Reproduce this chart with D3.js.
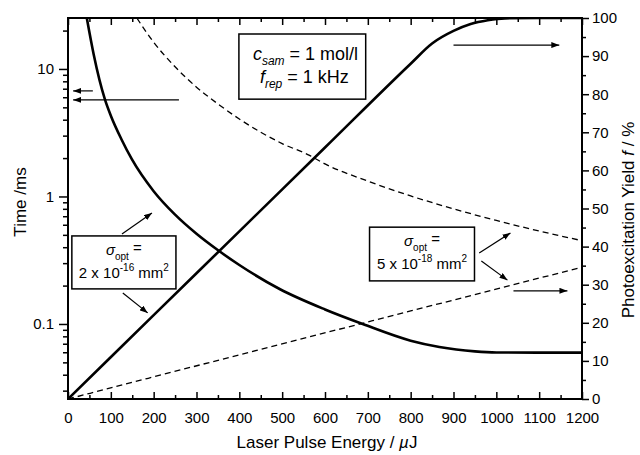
<!DOCTYPE html>
<html>
<head>
<meta charset="utf-8">
<script src="https://cdn.jsdelivr.net/npm/d3@7"></script>
<style>
  html, body { margin: 0; padding: 0; background: #fff; }
  svg { display: block; font-family: "Liberation Sans", Arial, Helvetica, sans-serif; }
</style>
</head>
<body>
<svg id="chart" width="640" height="455"></svg>
<script>
// Laser pulse energy (µJ) grid for the time curves
const energyTimeStrong = [44, 60, 86, 100, 125, 149, 200, 250, 300, 352, 400, 494, 600, 688, 800, 867, 950, 1000, 1100, 1200];
// Time (ms), sigma_opt = 2e-16 mm^2 (solid)
const timeStrong = [25, 13.0, 5.8, 4.3, 2.8, 1.96, 1.1, 0.72, 0.51, 0.375, 0.29, 0.188, 0.13, 0.1, 0.074, 0.066, 0.061, 0.0598, 0.0596, 0.0596];

const energyTimeWeak = [161, 200, 250, 300, 354, 400, 500, 564, 600, 700, 800, 900, 1000, 1100, 1200];
// Time (ms), sigma_opt = 5e-18 mm^2 (dashed)
const timeWeak = [25, 16.2, 10.4, 7.2, 5.2, 4.05, 2.6, 2.1, 1.8, 1.32, 1.01, 0.80, 0.648, 0.536, 0.45];

// Photoexcitation yield (%), sigma_opt = 2e-16 mm^2 (solid)
const energyYieldStrong = [0, 200, 400, 600, 800, 850, 900, 940, 980, 1020, 1100, 1200];
const yieldStrong = [0, 22, 44, 66, 88, 93.3, 96.6, 98.4, 99.4, 99.9, 100, 100];

// Photoexcitation yield (%), sigma_opt = 5e-18 mm^2 (dashed)
const energyYieldWeak = [0, 400, 800, 1200];
const yieldWeak = [0, 11.6, 23.1, 34.6];

// Axis ticks
const xMajorTicks = [0, 100, 200, 300, 400, 500, 600, 700, 800, 900, 1000, 1100, 1200];
const xMinorTicks = [50, 150, 250, 350, 450, 550, 650, 750, 850, 950, 1050, 1150];
const timeMajorTicks = [0.1, 1, 10];
const timeTickLabels = ["0.1", "1", "10"];
const timeMinorTicks = [0.03, 0.04, 0.05, 0.06, 0.07, 0.08, 0.09,
  0.2, 0.3, 0.4, 0.5, 0.6, 0.7, 0.8, 0.9,
  2, 3, 4, 5, 6, 7, 8, 9, 20];
const yieldMajorTicks = [0, 10, 20, 30, 40, 50, 60, 70, 80, 90, 100];
const yieldMinorTicks = [5, 15, 25, 35, 45, 55, 65, 75, 85, 95];

// Annotation arrows in data units: [E0, value0, E1, value1]
const timeArrows = [[58, 6.73, 12, 6.73], [259, 5.72, 12, 5.72]];
const yieldArrows = [
  [900, 92.9, 1147, 92.9],
  [1040, 28.4, 1166, 28.4],
  [126, 43.3, 196, 48.8],
  [128, 27.8, 186, 22.6],
  [960, 38.3, 1033, 43.6],
  [965, 36.2, 1026, 31.2]
];
// Annotation boxes: [E0, E1, yieldTop, yieldBottom]
const boxCond = [399, 695, 95.8, 78.7];
const boxStrong = [9, 252, 42.8, 28.9];
const boxWeak = [704, 949, 45.1, 31.0];

const svg = d3.select("#chart");
const plotLeft = 68, plotRight = 582, plotTop = 18, plotBottom = 399;

const x = d3.scaleLinear().domain([0, 1200]).range([plotLeft, plotRight]);
const yT = d3.scaleLog().domain([0.0258, 25.1]).range([plotBottom, plotTop]);
const yY = d3.scaleLinear().domain([0, 100]).range([plotBottom, plotTop]);

const defs = svg.append("defs");
defs.append("clipPath").attr("id", "plotClip")
  .append("rect").attr("x", plotLeft).attr("y", plotTop)
  .attr("width", plotRight - plotLeft).attr("height", plotBottom - plotTop);
defs.append("marker").attr("id", "head")
  .attr("viewBox", "0 0 8 6").attr("refX", 8).attr("refY", 3)
  .attr("markerWidth", 8).attr("markerHeight", 6)
  .attr("markerUnits", "userSpaceOnUse").attr("orient", "auto")
  .append("path").attr("d", "M0,0 L8,3 L0,6 Z").attr("fill", "#000");

// Axes
function styleAxis(g) {
  g.select(".domain").remove();
  g.selectAll(".tick line").attr("stroke", "#000").attr("stroke-width", 1.5);
  g.selectAll(".tick text").attr("fill", "#000").attr("font-size", 15)
    .attr("font-family", "'Liberation Sans', Arial, sans-serif");
}

svg.append("g").attr("transform", `translate(0,${plotBottom})`)
  .call(d3.axisBottom(x).tickValues(xMajorTicks).tickSize(-7).tickPadding(13).tickFormat(d3.format("d")))
  .call(styleAxis);
svg.append("g").attr("transform", `translate(0,${plotBottom})`)
  .call(d3.axisBottom(x).tickValues(xMinorTicks).tickSize(-4).tickFormat(""))
  .call(styleAxis);
svg.append("g").attr("transform", `translate(0,${plotTop})`)
  .call(d3.axisTop(x).tickValues(xMajorTicks).tickSize(-7).tickFormat(""))
  .call(styleAxis);
svg.append("g").attr("transform", `translate(0,${plotTop})`)
  .call(d3.axisTop(x).tickValues(xMinorTicks).tickSize(-4).tickFormat(""))
  .call(styleAxis);

svg.append("g").attr("transform", `translate(${plotLeft},0)`)
  .call(d3.axisLeft(yT).tickValues(timeMajorTicks).tickSize(9).tickPadding(5)
    .tickFormat((d, i) => timeTickLabels[i]))
  .call(styleAxis);
svg.append("g").attr("transform", `translate(${plotLeft},0)`)
  .call(d3.axisLeft(yT).tickValues(timeMinorTicks).tickSize(5).tickFormat(""))
  .call(styleAxis);

svg.append("g").attr("transform", `translate(${plotRight},0)`)
  .call(d3.axisRight(yY).tickValues(yieldMajorTicks).tickSize(7).tickPadding(3).tickFormat(d3.format("d")))
  .call(styleAxis);
svg.append("g").attr("transform", `translate(${plotRight},0)`)
  .call(d3.axisRight(yY).tickValues(yieldMinorTicks).tickSize(4).tickFormat(""))
  .call(styleAxis);

// Frame
svg.append("rect").attr("x", plotLeft).attr("y", plotTop)
  .attr("width", plotRight - plotLeft).attr("height", plotBottom - plotTop)
  .attr("fill", "none").attr("stroke", "#000").attr("stroke-width", 2);

// Curves
const plot = svg.append("g").attr("clip-path", "url(#plotClip)");
function drawCurve(xs, ys, yScale, dashed) {
  const line = d3.line().x(d => x(d[0])).y(d => yScale(d[1])).curve(d3.curveMonotoneX);
  plot.append("path").datum(xs.map((e, i) => [e, ys[i]]))
    .attr("d", line).attr("fill", "none").attr("stroke", "#000")
    .attr("stroke-width", dashed ? 1.3 : 2.6)
    .attr("stroke-dasharray", dashed ? "6,4" : null)
    .attr("stroke-linejoin", "round");
}
drawCurve(energyTimeStrong, timeStrong, yT, false);
drawCurve(energyTimeWeak, timeWeak, yT, true);
drawCurve(energyYieldStrong, yieldStrong, yY, false);
drawCurve(energyYieldWeak, yieldWeak, yY, true);

// Arrows
const ann = svg.append("g");
timeArrows.forEach(a => {
  ann.append("line").attr("x1", x(a[0])).attr("y1", yT(a[1])).attr("x2", x(a[2])).attr("y2", yT(a[3]))
    .attr("stroke", "#000").attr("stroke-width", 1.2).attr("marker-end", "url(#head)");
});
yieldArrows.forEach(a => {
  ann.append("line").attr("x1", x(a[0])).attr("y1", yY(a[1])).attr("x2", x(a[2])).attr("y2", yY(a[3]))
    .attr("stroke", "#000").attr("stroke-width", 1.2).attr("marker-end", "url(#head)");
});

// Annotation boxes
function box(b) {
  ann.append("rect").attr("x", x(b[0])).attr("y", yY(b[2]))
    .attr("width", x(b[1]) - x(b[0])).attr("height", yY(b[3]) - yY(b[2]))
    .attr("fill", "#fff").attr("stroke", "#000").attr("stroke-width", 1.5);
}
box(boxCond); box(boxStrong); box(boxWeak);

// Condition box text
const bx0 = x(boxCond[0]), by0 = yY(boxCond[2]);
const t1 = ann.append("text").attr("x", bx0 + 14).attr("y", by0 + 26).attr("font-size", 18);
t1.append("tspan").attr("font-style", "italic").text("c");
t1.append("tspan").attr("font-style", "italic").attr("font-size", 12).attr("dy", 5).text("sam");
t1.append("tspan").attr("dy", -5).text(" = 1 mol/l");
const t2 = ann.append("text").attr("x", bx0 + 21).attr("y", by0 + 49).attr("font-size", 18);
t2.append("tspan").attr("font-style", "italic").text("f");
t2.append("tspan").attr("font-style", "italic").attr("font-size", 12).attr("dy", 5).text("rep");
t2.append("tspan").attr("dy", -5).text(" = 1 kHz");

// Cross-section box text
function sigmaText(b, mantissa, exponent) {
  const cx = (x(b[0]) + x(b[1])) / 2, ty = yY(b[2]);
  const s1 = ann.append("text").attr("x", cx).attr("y", ty + 19).attr("font-size", 15).attr("text-anchor", "middle");
  s1.append("tspan").attr("font-style", "italic").text("σ");
  s1.append("tspan").attr("font-size", 10).attr("dy", 5).text("opt");
  s1.append("tspan").attr("dy", -7).text(" =");
  const s2 = ann.append("text").attr("x", cx).attr("y", ty + 42).attr("font-size", 15).attr("text-anchor", "middle");
  s2.append("tspan").text(mantissa + " x 10");
  s2.append("tspan").attr("font-size", 10).attr("dy", -7).text(exponent);
  s2.append("tspan").attr("dy", 7).text(" mm");
  s2.append("tspan").attr("font-size", 10).attr("dy", -7).text("2");
}
sigmaText(boxStrong, "2", "-16");
sigmaText(boxWeak, "5", "-18");

// Axis titles
svg.append("text").attr("x", (plotLeft + plotRight) / 2 + 2).attr("y", 448).attr("text-anchor", "middle")
  .attr("font-size", 17)
  .call(t => {
    t.append("tspan").text("Laser Pulse Energy / ");
    t.append("tspan").attr("font-style", "italic").text("µ");
    t.append("tspan").text("J");
  });
svg.append("text").attr("transform", "translate(26,202) rotate(-90)").attr("text-anchor", "middle")
  .attr("font-size", 17).text("Time /ms");
svg.append("text").attr("transform", "translate(634,220) rotate(-90)").attr("text-anchor", "middle")
  .attr("font-size", 17)
  .call(t => {
    t.append("tspan").text("Photoexcitation Yield ");
    t.append("tspan").attr("font-style", "italic").text("f");
    t.append("tspan").text(" / %");
  });
</script>
</body>
</html>
